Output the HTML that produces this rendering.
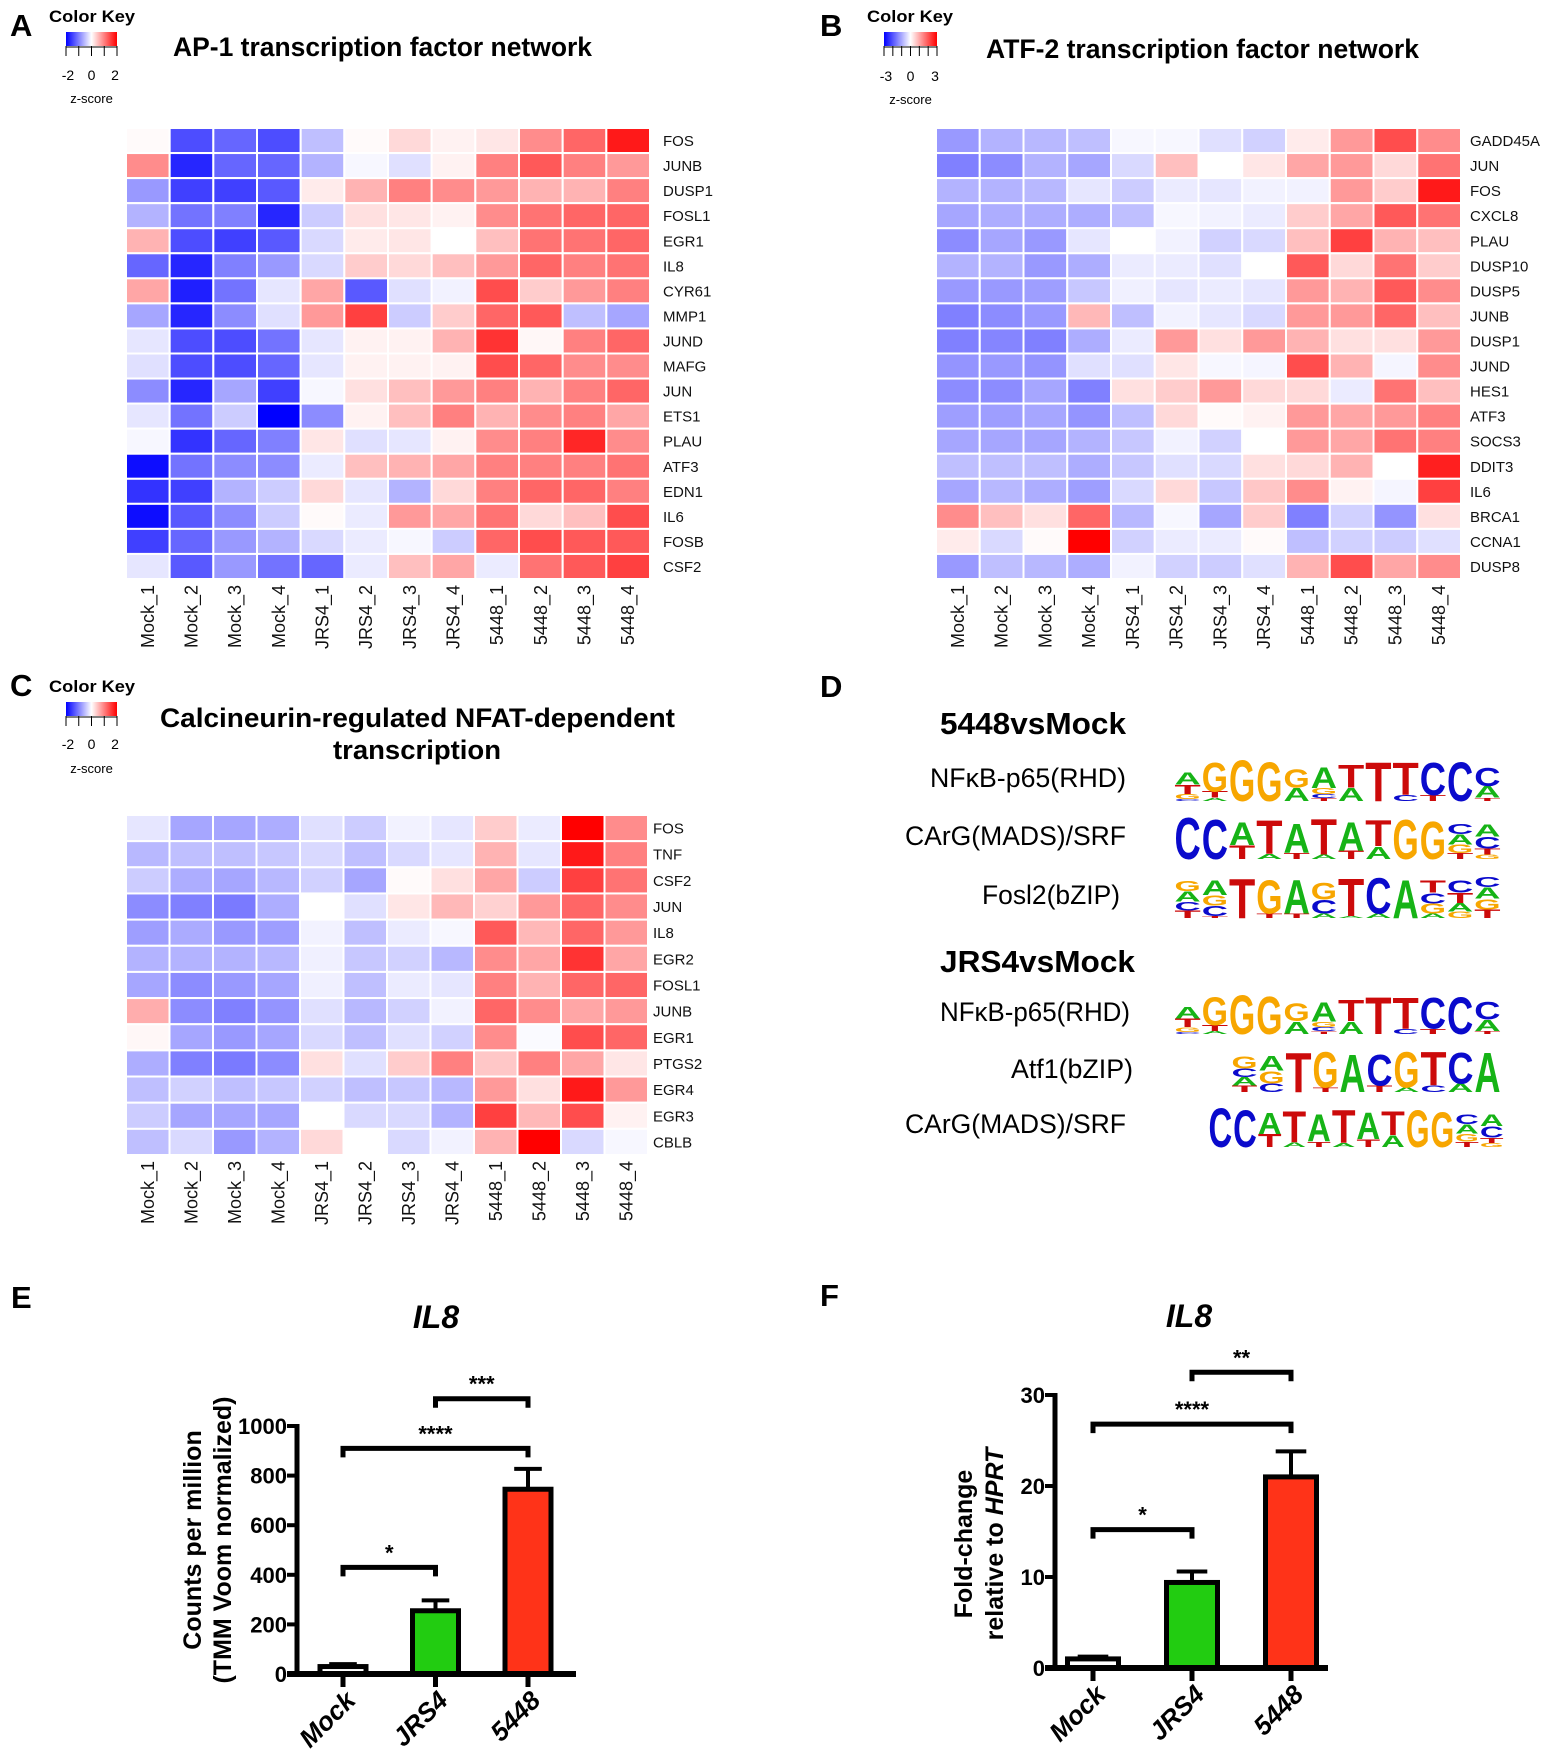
<!DOCTYPE html>
<html><head><meta charset="utf-8">
<style>
html,body{margin:0;padding:0;background:#fff;}
svg{display:block;font-family:"Liberation Sans",Arial,sans-serif;}
</style></head>
<body>
<svg id="fig" width="1547" height="1757" viewBox="0 0 1547 1757" xmlns="http://www.w3.org/2000/svg">
<g id="panelA"></g>
<g id="panelB"></g>
<g id="panelC"></g>
<g id="panelD"></g>
<g id="panelE"></g>
<g id="panelF"></g>
</svg>
<script>
const samples=["Mock_1","Mock_2","Mock_3","Mock_4","JRS4_1","JRS4_2","JRS4_3","JRS4_4","5448_1","5448_2","5448_3","5448_4"];
const apGenes=["FOS","JUNB","DUSP1","FOSL1","EGR1","IL8","CYR61","MMP1","JUND","MAFG","JUN","ETS1","PLAU","ATF3","EDN1","IL6","FOSB","CSF2"];
const apValues=[
[0.02,-0.7,-0.6,-0.7,-0.25,0.02,0.15,0.05,0.1,0.45,0.6,0.9],
[0.45,-0.85,-0.6,-0.6,-0.3,-0.03,-0.12,0.05,0.5,0.65,0.5,0.4],
[-0.4,-0.75,-0.75,-0.65,0.08,0.3,0.5,0.45,0.4,0.3,0.3,0.5],
[-0.3,-0.55,-0.5,-0.85,-0.2,0.12,0.1,0.05,0.45,0.55,0.6,0.6],
[0.3,-0.7,-0.75,-0.65,-0.15,0.08,0.1,0,0.25,0.55,0.55,0.6],
[-0.6,-0.85,-0.5,-0.4,-0.15,0.2,0.15,0.25,0.4,0.6,0.5,0.55],
[0.35,-0.88,-0.55,-0.1,0.35,-0.65,-0.12,-0.05,0.7,0.2,0.4,0.5],
[-0.35,-0.85,-0.45,-0.12,0.4,0.75,-0.2,0.2,0.6,0.65,-0.25,-0.35],
[-0.1,-0.7,-0.7,-0.55,-0.1,0.05,0.05,0.3,0.8,0.03,0.5,0.6],
[-0.12,-0.7,-0.7,-0.6,-0.1,0.05,0.05,0.05,0.7,0.6,0.45,0.45],
[-0.45,-0.85,-0.35,-0.75,-0.03,0.12,0.25,0.4,0.5,0.3,0.5,0.6],
[-0.1,-0.55,-0.2,-1,-0.45,0.05,0.25,0.5,0.3,0.45,0.5,0.35],
[-0.03,-0.8,-0.6,-0.5,0.1,-0.12,-0.1,0.05,0.45,0.5,0.85,0.45],
[-0.95,-0.55,-0.45,-0.45,-0.08,0.25,0.3,0.35,0.5,0.5,0.5,0.55],
[-0.8,-0.75,-0.3,-0.2,0.15,-0.1,-0.3,0.15,0.5,0.6,0.6,0.5],
[-0.95,-0.65,-0.45,-0.2,0.02,-0.08,0.4,0.35,0.55,0.15,0.25,0.7],
[-0.75,-0.6,-0.4,-0.3,-0.15,-0.08,-0.03,-0.2,0.6,0.7,0.65,0.65],
[-0.1,-0.65,-0.4,-0.55,-0.6,-0.08,0.25,0.35,-0.08,0.55,0.65,0.75]];
const atfGenes=["GADD45A","JUN","FOS","CXCL8","PLAU","DUSP10","DUSP5","JUNB","DUSP1","JUND","HES1","ATF3","SOCS3","DDIT3","IL6","BRCA1","CCNA1","DUSP8"];
const atfValues=[
[-0.4,-0.3,-0.28,-0.25,-0.03,-0.03,-0.12,-0.18,0.08,0.4,0.7,0.45],
[-0.5,-0.45,-0.3,-0.35,-0.15,0.25,0,0.1,0.35,0.4,0.15,0.55],
[-0.3,-0.3,-0.28,-0.1,-0.2,-0.08,-0.1,-0.05,-0.05,0.4,0.2,0.9],
[-0.35,-0.32,-0.32,-0.32,-0.25,-0.03,-0.05,-0.08,0.2,0.35,0.65,0.55],
[-0.45,-0.35,-0.4,-0.1,0,-0.05,-0.18,-0.15,0.25,0.75,0.3,0.25],
[-0.3,-0.3,-0.4,-0.32,-0.08,-0.08,-0.12,0,0.65,0.15,0.55,0.2],
[-0.4,-0.4,-0.38,-0.22,-0.06,-0.1,-0.08,-0.1,0.4,0.3,0.65,0.45],
[-0.5,-0.45,-0.4,0.28,-0.25,-0.05,-0.1,-0.15,0.4,0.4,0.6,0.25],
[-0.5,-0.48,-0.5,-0.32,-0.08,0.4,0.12,0.4,0.3,0.12,0.12,0.4],
[-0.42,-0.4,-0.42,-0.12,-0.12,0.1,-0.03,-0.04,0.7,0.3,-0.04,0.45],
[-0.45,-0.45,-0.35,-0.5,0.12,0.2,0.4,0.15,0.15,-0.08,0.55,0.25],
[-0.38,-0.38,-0.35,-0.42,-0.25,0.15,0.02,0.05,0.4,0.35,0.4,0.5],
[-0.35,-0.35,-0.35,-0.3,-0.22,-0.05,-0.18,0,0.4,0.35,0.55,0.5],
[-0.25,-0.25,-0.25,-0.32,-0.22,-0.12,-0.15,0.12,0.15,0.3,0,0.88],
[-0.35,-0.28,-0.32,-0.38,-0.15,0.15,-0.22,0.22,0.45,0.05,-0.04,0.75],
[0.45,0.25,0.12,0.6,-0.28,-0.03,-0.35,0.2,-0.5,-0.18,-0.42,0.12],
[0.08,-0.15,0.02,1.0,-0.18,-0.08,-0.08,0.02,-0.25,-0.18,-0.2,-0.12],
[-0.4,-0.25,-0.28,-0.32,-0.05,-0.18,-0.2,-0.12,0.3,0.7,0.35,0.45]];
const nfatGenes=["FOS","TNF","CSF2","JUN","IL8","EGR2","FOSL1","JUNB","EGR1","PTGS2","EGR4","EGR3","CBLB"];
const nfatValues=[
[-0.1,-0.35,-0.35,-0.32,-0.12,-0.2,-0.05,-0.1,0.2,-0.08,1.0,0.45],
[-0.28,-0.25,-0.25,-0.22,-0.15,-0.25,-0.15,-0.1,0.3,-0.1,0.9,0.5],
[-0.2,-0.32,-0.35,-0.28,-0.18,-0.35,0.02,0.12,0.35,-0.2,0.75,0.55],
[-0.45,-0.5,-0.52,-0.32,0,-0.12,0.1,0.28,0.18,0.4,0.6,0.45],
[-0.38,-0.33,-0.4,-0.38,-0.05,-0.25,-0.08,-0.03,0.65,0.28,0.6,0.4],
[-0.3,-0.3,-0.3,-0.28,-0.06,-0.22,-0.18,-0.28,0.45,0.35,0.8,0.35],
[-0.35,-0.45,-0.4,-0.35,-0.06,-0.25,-0.08,-0.1,0.5,0.3,0.6,0.6],
[0.32,-0.45,-0.5,-0.42,-0.12,-0.28,-0.18,-0.05,0.6,0.45,0.35,0.4],
[0.03,-0.35,-0.4,-0.35,-0.15,-0.25,-0.12,-0.18,0.45,-0.02,0.7,0.6],
[-0.32,-0.5,-0.52,-0.45,0.12,-0.12,0.2,0.5,0.22,0.5,0.35,0.1],
[-0.25,-0.18,-0.25,-0.22,-0.18,-0.25,-0.22,-0.28,0.4,0.12,0.9,0.4],
[-0.2,-0.35,-0.35,-0.35,0,-0.15,-0.15,-0.3,0.75,0.28,0.7,0.05],
[-0.25,-0.15,-0.4,-0.3,0.15,0,-0.15,-0.05,0.3,1.0,-0.15,-0.03]];
const keyTicksA=["-2","0","2"], keyTicksB=["-3","0","3"];
const groups=["Mock","JRS4","5448"];
const eMeans=[30,255,745], eErr=[10,42,82], eTicks=[0,200,400,600,800,1000];
const fMeans=[1,9.4,21], fErr=[0.25,1.2,2.8], fTicks=[0,10,20,30];
const eSig=[[0,1,430,"*"],[0,2,910,"****"],[1,2,1110,"***"]];
const fSig=[[0,1,15.2,"*"],[0,2,26.8,"****"],[1,2,32.5,"**"]];
const motifNFKB=[[["C",.05],["G",.12],["T",.22],["A",.3]],[["A",.08],["T",.15],["G",.72]],[["G",1]],[["G",.96]],[["A",.32],["G",.45]],[["T",.07],["C",.1],["G",.14],["A",.5]],[["A",.32],["T",.55]],[["T",.95]],[["C",.14],["T",.8]],[["T",.14],["C",.8]],[["C",.95]],[["T",.08],["A",.28],["C",.45]]];
const motifCARG=[[["C",1]],[["C",.95]],[["T",.33],["A",.55]],[["A",.12],["T",.8]],[["T",.14],["A",.7]],[["A",.1],["T",.85]],[["T",.2],["A",.68]],[["A",.3],["T",.62]],[["G",.95]],[["G",.9]],[["T",.14],["G",.2],["A",.24],["C",.25]],[["G",.1],["T",.14],["C",.28],["A",.3]]];
const motifFOSL2=[[["T",.18],["C",.2],["A",.25],["G",.25]],[["T",.05],["C",.24],["G",.25],["A",.35]],[["T",.95]],[["T",.1],["G",.8]],[["T",.1],["A",.8]],[["A",.1],["C",.33],["G",.4]],[["A",.05],["T",.9]],[["A",.1],["C",.85]],[["A",.92]],[["A",.1],["G",.24],["C",.25],["T",.3]],[["G",.15],["A",.2],["T",.24],["C",.3]],[["T",.2],["G",.25],["A",.27],["C",.25]]];
const motifATF1=[[["T",.15],["A",.2],["C",.2],["G",.3]],[["C",.2],["G",.3],["A",.35]],[["T",.95]],[["T",.1],["G",.85]],[["A",.9]],[["T",.15],["C",.75]],[["A",.1],["G",.85]],[["C",.15],["T",.8]],[["A",.2],["C",.75]],[["A",.95]]];

const NS="http://www.w3.org/2000/svg";
function mk(parent,tag,attrs,text){const e=document.createElementNS(NS,tag);for(const k in attrs)e.setAttribute(k,attrs[k]);if(text!==undefined)e.textContent=text;parent.appendChild(e);return e;}
function col(v){v=Math.max(-1,Math.min(1,v));if(v>=0){const g=Math.round(255*(1-v));return `rgb(255,${g},${g})`;}const r=Math.round(255*(1+v));return `rgb(${r},${r},255)`;}
const letterColor={A:"#16b316",C:"#0a0acc",G:"#f7a600",T:"#cc0a0a"};

function heatmap(g,x0,y0,x1,y1,genes,vals,labelX){
  const cw=(x1-x0)/samples.length, ch=(y1-y0)/genes.length;
  vals.forEach((row,r)=>row.forEach((v,c)=>{
    const rc=mk(g,"rect",{x:x0+c*cw,y:y0+r*ch,width:cw,height:ch,fill:col(v),stroke:"#fff","stroke-width":2});
    
    
  }));
  genes.forEach((gn,r)=>{
    const t=mk(g,"text",{x:labelX,y:y0+(r+0.5)*ch+5.5,"font-size":15,fill:"#111"},gn);
    
    
  });
  samples.forEach((s,c)=>{
    const cx=x0+(c+0.5)*cw+6, cy=y1+6;
    const t=mk(g,"text",{x:0,y:0,"font-size":18,"text-anchor":"end",transform:`translate(${cx},${cy}) rotate(-90)`,fill:"#111"},s);
    
    
  });
}
function colorKey(g,letter,lx,ly,kx,ky,kw,ticks,nt,titleY,labY,zY){
  let t=mk(g,"text",{x:lx,y:ly,"font-size":31,"font-weight":"bold"},letter);
  
  t=mk(g,"text",{x:kx-17,y:titleY,"font-size":17,"font-weight":"bold",textLength:86,lengthAdjust:"spacingAndGlyphs"},"Color Key");
  
  const id="grad"+letter;
  const d=mk(g,"defs",{});const lg=mk(d,"linearGradient",{id:id,x1:0,x2:1,y1:0,y2:0});
  mk(lg,"stop",{offset:"0",["stop-color"]:"#0000ff"});mk(lg,"stop",{offset:"0.5",["stop-color"]:"#ffffff"});mk(lg,"stop",{offset:"1",["stop-color"]:"#ff0000"});
  const r=mk(g,"rect",{x:kx,y:ky,width:kw,height:14,fill:`url(#${id})`});
  
  for(let i=0;i<nt;i++){const x=kx+i*kw/(nt-1);mk(g,"line",{x1:x,x2:x,y1:ky+14,y2:ky+24,stroke:"#000","stroke-width":1});}
  mk(g,"line",{x1:kx,x2:kx+kw,y1:ky+15,y2:ky+15,stroke:"#000","stroke-width":1});
  ticks.forEach((tk,i)=>{const tt=mk(g,"text",{x:kx+2+i*(kw-4)/(ticks.length-1),y:labY,"font-size":14,"text-anchor":"middle"},tk);
    });
  t=mk(g,"text",{x:kx+kw/2,y:zY,"font-size":13,"text-anchor":"middle"},"z-score");
  
}
const gA=document.getElementById("panelA");
colorKey(gA,"A",10,36,66,32,51,keyTicksA,5,22,80,103);
let tt=mk(gA,"text",{x:173,y:56,"font-size":27,"font-weight":"bold",textLength:419,lengthAdjust:"spacingAndGlyphs"},"AP-1 transcription factor network");

heatmap(gA,126,128,650,579,apGenes,apValues,663);
const gB=document.getElementById("panelB");
colorKey(gB,"B",820,36,884,32,53,keyTicksB,7,22,81,104);
tt=mk(gB,"text",{x:986,y:58,"font-size":27,"font-weight":"bold",textLength:433,lengthAdjust:"spacingAndGlyphs"},"ATF-2 transcription factor network");

heatmap(gB,936,128,1461,579,atfGenes,atfValues,1470);
const gC=document.getElementById("panelC");
colorKey(gC,"C",10,696,66,702,51,keyTicksA,5,692,749,773);
tt=mk(gC,"text",{x:160,y:727,"font-size":27,"font-weight":"bold",textLength:515,lengthAdjust:"spacingAndGlyphs"},"Calcineurin-regulated NFAT-dependent");

tt=mk(gC,"text",{x:417,y:759,"font-size":27,"font-weight":"bold","text-anchor":"middle",textLength:168,lengthAdjust:"spacingAndGlyphs"},"transcription");

heatmap(gC,126,815,648,1155,nfatGenes,nfatValues,653);
const gD=document.getElementById("panelD");
tt=mk(gD,"text",{x:820,y:697,"font-size":31,"font-weight":"bold"},"D");
function dText(x,y,s,bold,w,name){const t=mk(gD,"text",{x:x,y:y,"font-size":bold?31:27,"font-weight":bold?"bold":"normal","text-anchor":bold?"start":"end",textLength:w,lengthAdjust:"spacingAndGlyphs"},s);}
dText(940,734,"5448vsMock",true,186,"group-heading");
dText(1126,787,"NFκB-p65(RHD)",false,196,"motif-label");
dText(1126,845,"CArG(MADS)/SRF",false,221,"motif-label");
dText(1120,904,"Fosl2(bZIP)",false,138,"motif-label");
dText(940,972,"JRS4vsMock",true,195,"group-heading");
dText(1130,1021,"NFκB-p65(RHD)",false,190,"motif-label");
dText(1133,1078,"Atf1(bZIP)",false,122,"motif-label");
dText(1126,1133,"CArG(MADS)/SRF",false,221,"motif-label");
function logo(motif,x0,x1,top,bottom){
  const lg=mk(gD,"g",{});
  const w=(x1-x0)/motif.length,H=bottom-top;
  motif.forEach((pos,i)=>{let yb=bottom;pos.forEach(([L,f])=>{const h=f*H;
    const t=mk(lg,"text",{x:0,y:0,"font-size":10,"font-weight":"bold",fill:letterColor[L],textLength:7.2,lengthAdjust:"spacingAndGlyphs",transform:`translate(${x0+i*w+0.5},${yb}) scale(${(w-1)/7.2},${h/7.2})`},L);
    yb-=h;});});
}
logo(motifNFKB,1174,1501,759,801);
logo(motifCARG,1174,1501,816,859);
logo(motifFOSL2,1174,1501,875,918);
logo(motifNFKB,1174,1501,994,1034);
logo(motifATF1,1231,1501,1049,1092);
logo(motifCARG,1208,1504,1107,1147);
function barChart(g,letter,lp,cfg){
  let t=mk(g,"text",{x:lp[0],y:lp[1],"font-size":31,"font-weight":"bold"},letter);
  const yS=v=>cfg.y0-(v/cfg.max)*(cfg.y0-cfg.yTop);
  const xS=i=>cfg.cx0+i*cfg.step;
  t=mk(g,"text",{x:cfg.titleX,y:cfg.titleY,"font-size":32,"font-weight":"bold","font-style":"italic","text-anchor":"middle"},"IL8");
  
  const colors=["#ffffff","#22cc11","#ff3318"];
  cfg.means.forEach((m,i)=>{
    const bw=cfg.bw, x=xS(i)-bw/2;
    const eb=mk(g,"line",{x1:xS(i),x2:xS(i),y1:yS(m),y2:yS(m+cfg.err[i]),stroke:"#000","stroke-width":4});
    
    mk(g,"line",{x1:xS(i)-bw*0.3,x2:xS(i)+bw*0.3,y1:yS(m+cfg.err[i]),y2:yS(m+cfg.err[i]),stroke:"#000","stroke-width":4});
    const b=mk(g,"rect",{x:x,y:yS(m),width:bw,height:cfg.y0-yS(m),fill:colors[i],stroke:"#000","stroke-width":5});
    
    mk(g,"line",{x1:xS(i),x2:xS(i),y1:cfg.y0,y2:cfg.y0+13,stroke:"#000","stroke-width":5});
    const lb=mk(g,"text",{x:0,y:0,"font-size":26,"font-weight":"bold","font-style":"italic","text-anchor":"end",transform:`translate(${xS(i)+14},${cfg.y0+28}) rotate(-45)`},groups[i]);
    
  });
  const ya=mk(g,"line",{x1:cfg.ax,x2:cfg.ax,y1:cfg.y0+2,y2:cfg.yTop-2,stroke:"#000","stroke-width":5});
  const xa=mk(g,"line",{x1:cfg.ax-10,x2:cfg.xEnd,y1:cfg.y0,y2:cfg.y0,stroke:"#000","stroke-width":6});
  cfg.ticks.forEach(v=>{mk(g,"line",{x1:cfg.ax-10,x2:cfg.ax,y1:yS(v),y2:yS(v),stroke:"#000","stroke-width":4});
    const tl=mk(g,"text",{x:cfg.ax-10,y:yS(v)+8,"font-size":22,"font-weight":"bold","text-anchor":"end"},String(v));
    });
  cfg.sig.forEach(([a,b,v,s])=>{const y=yS(v);
    const br=mk(g,"path",{d:`M${xS(a)},${y+9} V${y} H${xS(b)} V${y+9}`,fill:"none",stroke:"#000","stroke-width":5});
    
    const st=mk(g,"text",{x:(xS(a)+xS(b))/2,y:y-7,"font-size":22,"font-weight":"bold","text-anchor":"middle"},s);
    });
  cfg.ytitle.forEach((ln,k)=>{
    const yt=mk(g,"text",{x:0,y:0,"font-size":25,"font-weight":"bold","text-anchor":"middle",transform:`translate(${cfg.ytx[k]},${cfg.ytY}) rotate(-90)`});
    
    ln.forEach(([s,it])=>{mk(yt,"tspan",{"font-style":it?"italic":"normal"},s);});
  });
}
barChart(document.getElementById("panelE"),"E",[11,1308],{y0:1674,yTop:1426,max:1000,cx0:343,step:92.5,bw:46,ax:297,xEnd:576,means:eMeans,err:eErr,ticks:eTicks,sig:eSig,titleX:436,titleY:1328,
  ytitle:[[["Counts per million",false]],[["(TMM Voom normalized)",false]]],ytx:[201,231],ytY:1540});
barChart(document.getElementById("panelF"),"F",[820,1306],{y0:1668,yTop:1395,max:30,cx0:1093,step:99,bw:51,ax:1055,xEnd:1328,means:fMeans,err:fErr,ticks:fTicks,sig:fSig,titleX:1189,titleY:1327,
  ytitle:[[["Fold-change",false]],[["relative to ",false],["HPRT",true]]],ytx:[972,1003],ytY:1544});
</script>
</body></html>
